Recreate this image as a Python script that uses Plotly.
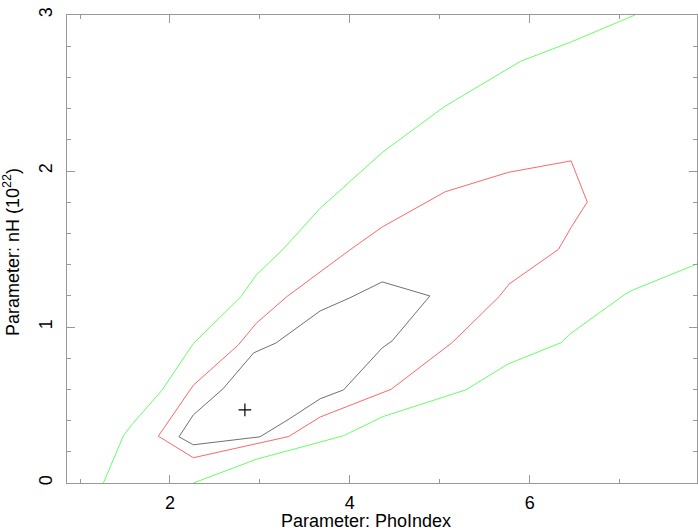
"""Confidence contours: nH vs PhoIndex (steppar style)."""

import plotly.graph_objects as go

FONT = "Liberation Sans, Arial, Helvetica, sans-serif"

# 1-sigma contour (closed)
black_x = [2.10, 2.26, 3.00, 3.33, 3.67, 3.93, 4.36, 4.47, 4.89, 4.36, 4.00, 3.67, 3.18, 2.93, 2.59, 2.26, 2.10]
black_y = [0.296, 0.245, 0.296, 0.412, 0.540, 0.597, 0.866, 0.911, 1.199, 1.289, 1.187, 1.103, 0.898, 0.834, 0.604, 0.437, 0.296]

# 2-sigma contour (closed)
red_x = [1.87, 2.26, 3.32, 3.67, 4.46, 5.06, 5.14, 5.66, 5.77, 6.32, 6.46, 6.64, 6.46, 5.76, 5.06,
         4.36, 4.00, 3.30, 2.96, 2.76, 2.26, 1.87]
red_y = [0.300, 0.162, 0.298, 0.423, 0.601, 0.868, 0.901, 1.195, 1.275, 1.498, 1.638, 1.801, 2.065, 1.991, 1.867,
         1.641, 1.494, 1.195, 1.024, 0.885, 0.627, 0.300]

# 3-sigma contour, upper-left branch (open)
green_a_x = [1.26, 1.48, 1.57, 1.91, 2.26, 2.79, 2.96, 3.26, 3.67, 4.37, 5.05, 5.76, 5.90, 6.46, 7.17]
green_a_y = [0.0, 0.300, 0.370, 0.594, 0.894, 1.195, 1.334, 1.500, 1.761, 2.123, 2.412, 2.657, 2.704, 2.827, 3.0]

# 3-sigma contour, lower-right branch (open)
green_b_x = [2.26, 2.96, 3.93, 4.37, 5.29, 5.76, 6.35, 6.46, 7.06, 7.15, 7.86]
green_b_y = [0.0, 0.152, 0.303, 0.426, 0.597, 0.763, 0.900, 0.960, 1.210, 1.238, 1.404]

best_x = [2.833]
best_y = [0.469]

x_range = [0.855, 7.86]
y_range = [0.0, 3.0]
x_ticks = [2, 4, 6]
y_ticks = [0, 1, 2, 3]

fig = go.Figure()
for xs, ys, color in [
    (green_a_x, green_a_y, "#66ff66"),
    (green_b_x, green_b_y, "#66ff66"),
    (red_x, red_y, "#ff6666"),
    (black_x, black_y, "#707070"),
]:
    fig.add_trace(go.Scatter(x=xs, y=ys, mode="lines", line=dict(color=color, width=1),
                             showlegend=False, hoverinfo="skip"))

fig.add_trace(go.Scatter(x=best_x, y=best_y, mode="markers", showlegend=False, hoverinfo="skip",
                         marker=dict(symbol="cross-thin", size=9, line=dict(color="black", width=1.2))))

axis_common = dict(
    showline=True, linecolor="#999999", linewidth=1, mirror="ticks",
    ticks="inside", ticklen=8, tickwidth=1, tickcolor="#999999",
    showgrid=False, zeroline=False, automargin=False,
    tickfont=dict(family=FONT, size=18, color="black"),
)

fig.update_xaxes(range=x_range, tickvals=x_ticks, ticklabelstandoff=3, **axis_common,
                 minor=dict(dtick=1, tick0=1, ticks="inside", ticklen=4, tickcolor="#999999", showgrid=False))
fig.update_yaxes(range=y_range, tickvals=y_ticks, tickangle=-90, ticklabelstandoff=7, **axis_common,
                 minor=dict(dtick=0.2, tick0=0, ticks="inside", ticklen=4, tickcolor="#999999", showgrid=False))

fig.add_annotation(text="Parameter: PhoIndex", xref="paper", yref="paper", x=0.474, y=-0.082,
                   showarrow=False, xanchor="center", yanchor="middle",
                   font=dict(family=FONT, size=18, color="black"))
fig.add_annotation(text="Parameter: nH (10<sup>22</sup>)", xref="paper", yref="paper", x=-0.087, y=0.494,
                   showarrow=False, xanchor="center", yanchor="middle", textangle=-90,
                   font=dict(family=FONT, size=18, color="black"))

fig.update_layout(
    width=698, height=530,
    margin=dict(l=67, r=1, t=15, b=47),
    plot_bgcolor="white", paper_bgcolor="white",
)

fig.write_html("out.html", config={"displayModeBar": False},
               post_script="document.body.style.margin='0';")
